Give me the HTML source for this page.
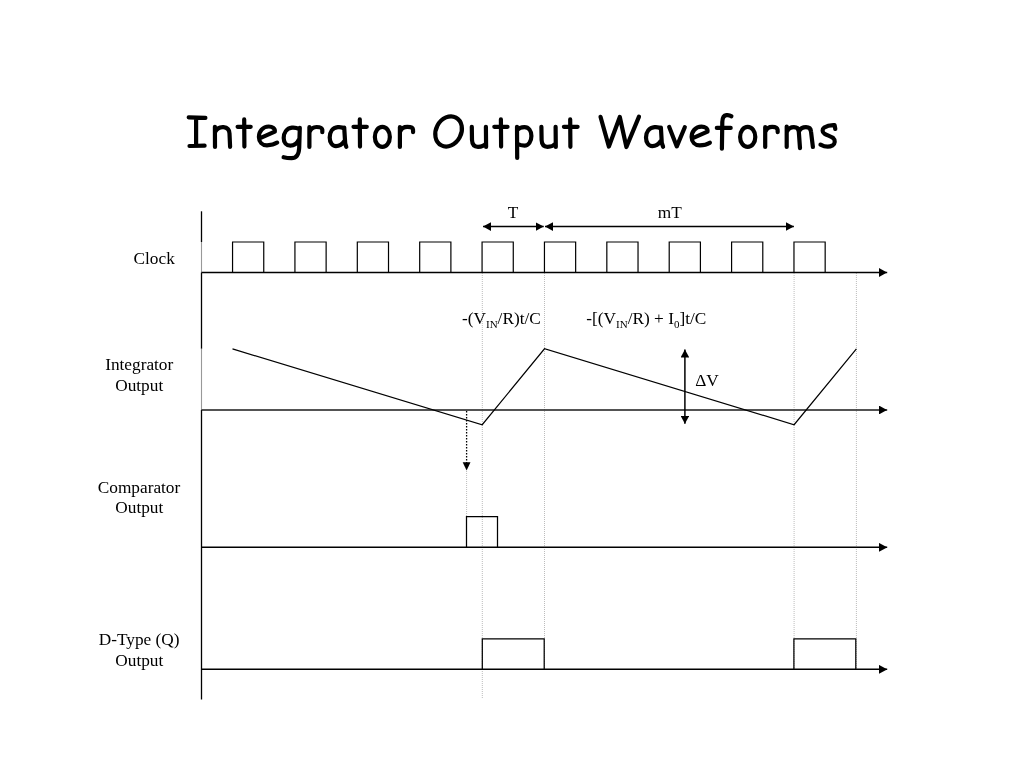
<!DOCTYPE html>
<html>
<head>
<meta charset="utf-8">
<style>
html,body{margin:0;padding:0;background:#fff;width:1024px;height:768px;overflow:hidden;}
svg{position:absolute;left:0;top:0;display:block;will-change:transform;}
.t{font-family:"Liberation Serif",serif;font-size:17.3px;fill:#000;}
.s{font-size:11px;}
</style>
</head>
<body>
<svg width="1024" height="768" viewBox="0 0 1024 768">
<defs>
<marker id="ah" viewBox="0 0 10 10" refX="10" refY="5" markerWidth="8.2" markerHeight="8.8" preserveAspectRatio="none" markerUnits="userSpaceOnUse" orient="auto-start-reverse">
<path d="M0,0 L10,5 L0,10 z" fill="#000"/>
</marker>
</defs>

<!-- title -->
<g fill="none" stroke="#000" stroke-width="4.2" stroke-linecap="round" stroke-linejoin="round">
<!-- I -->
<path d="M188.7,117.3 L205.4,117.9 M196.1,117.6 L196.1,145.8 M189.5,146 L204.6,145.7"/>
<!-- n -->
<path d="M214.9,126.8 L215,147 M215.2,132 C217,128 220.5,126.9 223.5,127.1 C227.5,127.4 229.3,129.5 229.5,133.5 L230.1,146.8"/>
<!-- t -->
<path d="M244.2,119.4 L244.4,146.6 M237.6,126.8 L250.7,126.8"/>
<!-- e -->
<path d="M259.6,138.3 L274.8,131.6 C275.3,128.4 272.3,126.5 268.8,126.5 C262.8,126.5 258.9,131.4 258.9,136.9 C258.9,141.9 262.3,145.3 267.0,145.3 C270.8,145.3 274.8,144.2 277.2,142.6"/>
<!-- g -->
<path d="M299,129 C297,127.8 294.5,127.4 292,127.6 C286.5,128.2 283.7,133 283.7,138 C283.7,142.8 286.5,145.6 290.3,145.6 C294.5,145.6 297.5,142.5 299,139.5 M299.8,127.8 L299.2,148 C298.8,155 296,158.2 291.5,158.2 C288.5,158.2 285.8,157.8 283.6,157.2"/>
<!-- r -->
<path d="M309.4,127.2 L309.4,147 M309.6,132 C311,128.5 313.5,127 316.5,127 C320,127 322.1,127.6 322.3,129.8 L322.3,132.2"/>
<!-- a -->
<path d="M344,128.5 C342.5,127.3 340,126.9 337.8,127.1 C332.5,127.6 329.7,132.3 329.7,137.5 C329.7,142.3 332.2,146.2 336,146.2 C339.5,146.2 342.5,144 344.3,141.2 M344.2,127.5 L345.2,143.5 L346.3,146.8"/>
<!-- t -->
<path d="M359.8,119.4 L360,146.6 M353.5,126.8 L366.8,126.8"/>
<!-- o -->
<ellipse cx="382.35" cy="136.9" rx="7.5" ry="10"/>
<!-- r -->
<path d="M399.9,127.2 L399.9,147 M400.2,131.5 C401.5,128.3 404,126.9 407.3,126.9 C410.5,126.9 412.8,127.5 413,129.5 L413.1,132.2"/>
<!-- O -->
<ellipse cx="448.6" cy="131.4" rx="12.6" ry="15.7" transform="rotate(28 448.6 131.4)"/>
<!-- u -->
<path d="M471.8,126.8 L472,140 C472.2,144.5 474.5,146.8 478,146.8 C481.5,146.8 484.5,145.5 486,143.5 M485.9,126.8 L486.1,147"/>
<!-- t -->
<path d="M500.9,119.4 L501.1,146.6 M494.3,126.8 L507.5,126.8"/>
<!-- p -->
<path d="M517,126.8 L517.2,158 M517.3,130 C519,127.8 521.5,127.1 524.4,127.1 C528.8,127.1 531.4,131 531.4,136 C531.4,141.5 528.5,145.6 524.5,145.6 C521.8,145.6 519.5,145 517.5,143.8"/>
<!-- u -->
<path d="M541.4,126.8 L541.6,140 C541.8,144.5 544,146.8 547.5,146.8 C551,146.8 554,145.5 555.6,143.5 M555.6,126.8 L555.8,147"/>
<!-- t -->
<path d="M570.2,119.4 L570.4,146.8 M563.9,126.8 L577.6,126.8"/>
<!-- W -->
<path d="M600.5,116.8 L608.9,146.6 L619.8,117 L626.4,147 L639,116.6"/>
<!-- a -->
<path d="M660.8,128.5 C659.3,127.3 656.8,126.9 654.6,127.1 C649,127.6 646,132.3 646,137.5 C646,142.3 648.5,146.2 652.3,146.2 C655.8,146.2 658.8,144 660.6,141.2 M660.9,127.5 L661.8,143 L663.1,146.8"/>
<!-- v -->
<path d="M669.2,127 L676.8,146.4 L684.8,127.2"/>
<!-- e -->
<path d="M692.3,138.4 L707.5,131.7 C708.0,128.5 705.0,126.6 701.5,126.6 C695.5,126.6 691.6,131.5 691.6,137.0 C691.6,142.0 695.0,145.4 699.7,145.4 C703.5,145.4 707.5,144.3 709.9,142.7"/>
<!-- f -->
<path d="M731.4,116.2 C730,115.2 728,114.9 726.4,115.1 C723.5,115.5 722.4,118.5 722.3,122 L721.9,148.7 M716.8,127.9 L730.7,127.9"/>
<!-- o -->
<ellipse cx="747.7" cy="136.9" rx="7.6" ry="10.05"/>
<!-- r -->
<path d="M765.2,127.2 L765.2,147 M765.5,131.5 C766.8,128.3 769.3,126.9 772.2,126.9 C775.5,126.9 777.3,127.6 777.6,129.8 L777.7,132.2"/>
<!-- m -->
<path d="M786.7,126.5 L786.7,147 M787,131.5 C788.5,128.3 791,127.2 793.9,127.2 C797,127.2 798.6,128.8 798.8,131.5 L800,148.2 M798.9,131.5 C800.5,128.3 803,127.2 806,127.2 C809.3,127.2 810.8,128.8 811,131.5 L812.9,147"/>
<!-- s -->
<path d="M835.3,129 L834.6,125.2 C831,125 827,125.8 824.3,127.6 C822,129.2 822,132.2 824.5,133.8 C827,135.4 831,136.2 833.2,138 C835.5,140 835.2,143.8 832.6,145.4 C829.5,147.2 824.5,146.8 820.5,144.6"/>
</g>

<!-- dotted gray verticals -->
<g stroke="#bcbcbc" stroke-width="1" stroke-dasharray="1 1" fill="none">
<line x1="482.3" y1="273" x2="482.3" y2="699"/>
<line x1="466.6" y1="471" x2="466.6" y2="516.7"/>
<line x1="544.5" y1="273" x2="544.5" y2="669"/>
<line x1="794.1" y1="273" x2="794.1" y2="669"/>
<line x1="856.4" y1="273" x2="856.4" y2="669"/>
</g>

<!-- vertical axis -->
<g fill="none">
<line x1="201.5" y1="211.3" x2="201.5" y2="242" stroke="#000" stroke-width="1.3"/>
<line x1="201.5" y1="242" x2="201.5" y2="272.5" stroke="#999" stroke-width="1.1"/>
<line x1="201.5" y1="272.5" x2="201.5" y2="348.8" stroke="#000" stroke-width="1.3"/>
<line x1="201.5" y1="348.8" x2="201.5" y2="410" stroke="#999" stroke-width="1.1"/>
<line x1="201.5" y1="410" x2="201.5" y2="699.6" stroke="#000" stroke-width="1.3"/>
</g>

<!-- baselines with arrows -->
<g stroke="#000" fill="none">
<line x1="201.5" y1="272.5" x2="887.2" y2="272.5" stroke-width="1.35" marker-end="url(#ah)"/>
<line x1="201.5" y1="410" x2="887.2" y2="410" stroke-width="1.6" stroke="#1a1a1a" marker-end="url(#ah)"/>
<line x1="201.5" y1="547.3" x2="887.2" y2="547.3" stroke-width="1.5" marker-end="url(#ah)"/>
<line x1="201.5" y1="669.3" x2="887.2" y2="669.3" stroke-width="1.5" marker-end="url(#ah)"/>
</g>

<!-- clock pulses -->
<g stroke="#000" stroke-width="1.2" fill="none">
<path d="M232.55,272.5 V242 H263.75 V272.5"/>
<path d="M294.93,272.5 V242 H326.13 V272.5"/>
<path d="M357.31,272.5 V242 H388.51 V272.5"/>
<path d="M419.69,272.5 V242 H450.89 V272.5"/>
<path d="M482.07,272.5 V242 H513.27 V272.5"/>
<path d="M544.45,272.5 V242 H575.65 V272.5"/>
<path d="M606.83,272.5 V242 H638.03 V272.5"/>
<path d="M669.21,272.5 V242 H700.41 V272.5"/>
<path d="M731.59,272.5 V242 H762.79 V272.5"/>
<path d="M793.97,272.5 V242 H825.17 V272.5"/>
</g>

<!-- integrator waveform -->
<path d="M232.5,348.9 L482.2,424.7 L544.5,348.8 L794.1,424.7 L856.4,348.8" stroke="#000" stroke-width="1.2" fill="none"/>

<!-- comparator pulse -->
<path d="M466.5,547.3 V516.7 H497.5 V547.3" stroke="#000" stroke-width="1.25" fill="none"/>
<!-- dtype pulses -->
<path d="M482.3,669.3 V638.8 H544.2 V669.3" stroke="#000" stroke-width="1.25" fill="none"/>
<path d="M793.9,669.3 V638.8 H855.8 V669.3" stroke="#000" stroke-width="1.25" fill="none"/>

<!-- dotted arrow -->
<line x1="466.6" y1="411" x2="466.6" y2="463" stroke="#000" stroke-width="1.3" stroke-dasharray="1.4 1.6"/>
<path d="M462.7,462.2 L470.5,462.2 L466.6,470.5 z" fill="#000"/>

<!-- T arrows -->
<line x1="483" y1="226.6" x2="543.7" y2="226.6" stroke="#000" stroke-width="1.5" marker-start="url(#ah)" marker-end="url(#ah)"/>
<line x1="545" y1="226.6" x2="793.9" y2="226.6" stroke="#000" stroke-width="1.5" marker-start="url(#ah)" marker-end="url(#ah)"/>

<!-- delta V arrow -->
<line x1="684.9" y1="349.4" x2="684.9" y2="423.8" stroke="#000" stroke-width="1.5" marker-start="url(#ah)" marker-end="url(#ah)"/>

<!-- labels -->
<text class="t" x="513.1" y="217.6" text-anchor="middle">T</text>
<text class="t" x="669.7" y="217.6" text-anchor="middle">mT</text>
<text class="t" x="695.2" y="385.7">&#916;V</text>
<text class="t" x="462" y="324.3">-(V<tspan class="s" dy="4">IN</tspan><tspan dy="-4">/R)t/C</tspan></text>
<text class="t" x="586.3" y="324.3">-[(V<tspan class="s" dy="4">IN</tspan><tspan dy="-4">/R) + I</tspan><tspan class="s" dy="4">0</tspan><tspan dy="-4">]t/C</tspan></text>

<text class="t" x="154.2" y="263.7" text-anchor="middle">Clock</text>
<text class="t" x="139.2" y="370.2" text-anchor="middle">Integrator</text>
<text class="t" x="139.2" y="390.9" text-anchor="middle">Output</text>
<text class="t" x="139" y="492.6" text-anchor="middle">Comparator</text>
<text class="t" x="139.3" y="512.6" text-anchor="middle">Output</text>
<text class="t" x="139.1" y="645" text-anchor="middle">D-Type (Q)</text>
<text class="t" x="139.3" y="665.5" text-anchor="middle">Output</text>
</svg>
</body>
</html>
